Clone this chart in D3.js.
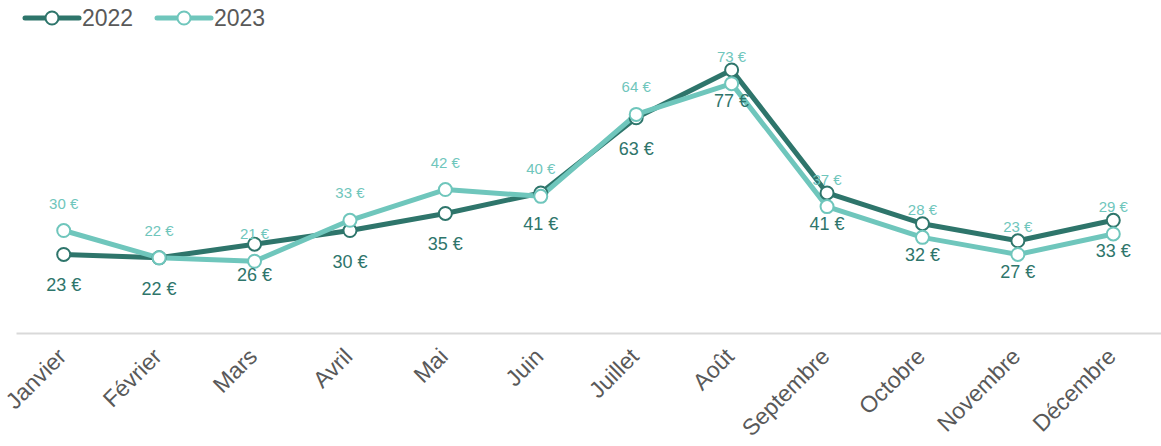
<!DOCTYPE html>
<html>
<head>
<meta charset="utf-8">
<script src="https://cdn.jsdelivr.net/npm/d3@7"></script>
<style>
  body { margin: 0; background: #fff; }
  svg { display: block; font-family: "Liberation Sans", Arial, sans-serif; }
</style>
</head>
<body>
<div id="chart"></div>
<script>
let months = ["Janvier", "Février", "Mars", "Avril", "Mai", "Juin", "Juillet", "Août", "Septembre", "Octobre", "Novembre", "Décembre"];
let values2022 = [23, 22, 26, 30, 35, 41, 63, 77, 41, 32, 27, 33];
let values2023 = [30, 22, 21, 33, 42, 40, 64, 73, 37, 28, 23, 29];
let seriesNames = ["2022", "2023"];

let dim = { width: 1161, height: 446 };

let colors = { "2022": "#2e756b", "2023": "#6fc6bc" };

let svg = d3.select("#chart").append("svg")
    .attr("width", dim.width)
    .attr("height", dim.height);

let scaleX = d3.scaleBand()
    .domain(months)
    .range([16, 1161]);

let scaleY = d3.scaleLinear()
    .domain([0, 80])
    .range([333, 333 - 80 * 3.416]);

let cx = m => scaleX(m) + scaleX.bandwidth() / 2;

// axis
let axisX = svg.append("g")
    .attr("transform", "translate(0,333)")
    .call(d3.axisBottom(scaleX).tickSize(0).tickPadding(0));
axisX.select(".domain").attr("stroke", "#d9d9d9").attr("stroke-width", 2);
axisX.selectAll(".tick text")
    .attr("fill", "#595959")
    .attr("font-size", 23)
    .attr("text-anchor", "end")
    .attr("dy", 0)
    .attr("y", 0)
    .attr("transform", "translate(4,25) rotate(-45)");

let line = d3.line()
    .x((d, i) => cx(months[i]))
    .y(d => scaleY(d));

let series = [
  { name: "2022", values: values2022 },
  { name: "2023", values: values2023 }
];

series.forEach(s => {
  svg.append("path")
    .datum(s.values)
    .attr("fill", "none")
    .attr("stroke", colors[s.name])
    .attr("stroke-width", 5)
    .attr("stroke-linejoin", "round")
    .attr("d", line);
});

series.forEach(s => {
  svg.append("g").selectAll("circle")
    .data(s.values)
    .join("circle")
    .attr("cx", (d, i) => cx(months[i]))
    .attr("cy", d => scaleY(d))
    .attr("r", 6.5)
    .attr("fill", "#fff")
    .attr("stroke", colors[s.name])
    .attr("stroke-width", 2);
});

// labels
svg.append("g").selectAll("text")
  .data(values2022)
  .join("text")
  .attr("x", (d, i) => cx(months[i]))
  .attr("y", d => scaleY(d) + 37)
  .attr("text-anchor", "middle")
  .attr("font-size", 18)
  .attr("fill", colors["2022"])
  .text(d => d + " €");

svg.append("g").selectAll("text")
  .data(values2023)
  .join("text")
  .attr("x", (d, i) => cx(months[i]))
  .attr("y", d => scaleY(d) - 22)
  .attr("text-anchor", "middle")
  .attr("font-size", 15)
  .attr("fill", colors["2023"])
  .text(d => d + " €");

// legend
let legend = svg.append("g");
seriesNames.forEach((name, i) => {
  let x0 = 25 + i * 132;
  let g = legend.append("g").attr("transform", `translate(${x0},18)`);
  g.append("line")
    .attr("x1", 0).attr("x2", 54)
    .attr("stroke", colors[name])
    .attr("stroke-width", 5)
    .attr("stroke-linecap", "round");
  g.append("circle")
    .attr("cx", 27).attr("r", 6.5)
    .attr("fill", "#fff")
    .attr("stroke", colors[name])
    .attr("stroke-width", 2);
  g.append("text")
    .attr("x", 57).attr("y", 8)
    .attr("font-size", 23)
    .attr("fill", "#595959")
    .text(name);
});
</script>
</body>
</html>
